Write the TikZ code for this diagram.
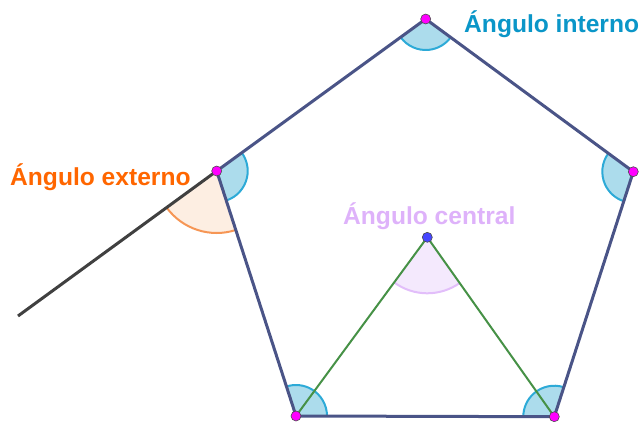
\documentclass[tikz,border=0pt]{standalone}
\usepackage{fontspec}
\setmainfont{Liberation Sans}
\usetikzlibrary{angles}
\definecolor{edgecol}{RGB}{74,84,135}
\definecolor{extcol}{RGB}{64,64,64}
\definecolor{greencol}{RGB}{70,145,70}
\definecolor{intfill}{RGB}{172,220,236}
\definecolor{intdraw}{RGB}{45,170,215}
\definecolor{extfill}{RGB}{253,238,226}
\definecolor{extdraw}{RGB}{246,150,85}
\definecolor{cenfill}{RGB}{244,233,253}
\definecolor{cendraw}{RGB}{226,190,250}
\definecolor{lblint}{RGB}{10,150,200}
\definecolor{lblext}{RGB}{255,102,0}
\definecolor{lblcen}{RGB}{222,178,250}
\definecolor{vcol}{RGB}{255,0,255}
\definecolor{ccol}{RGB}{70,70,255}
\tikzset{
  intang/.style={draw=intdraw, fill=intfill, line width=2pt, angle radius=31pt},
  extang/.style={draw=extdraw, fill=extfill, line width=2pt, angle radius=62pt},
  cenang/.style={draw=cendraw, fill=cenfill, line width=2pt, angle radius=56pt},
  vdot/.style={circle, fill=vcol, draw=black!70, line width=0.6pt, inner sep=0pt, minimum size=10pt},
  cdot/.style={circle, fill=ccol, draw=black!70, line width=0.6pt, inner sep=0pt, minimum size=10pt},
  lbl/.style={anchor=base west, inner sep=0pt, font=\fontsize{24.6}{24.6}\selectfont\bfseries}
}
\begin{document}
\begin{tikzpicture}[x=1pt,y=1pt]
\useasboundingbox (0,0) rectangle (644,421);
\coordinate (A) at (425.7,402);
\coordinate (B) at (633.3,249.3);
\coordinate (C) at (554.3,4.3);
\coordinate (D) at (296,5);
\coordinate (E) at (216.7,250);
\coordinate (O) at (427.3,183.7);
\coordinate (F) at (18,105);
% angle sectors
\pic[intang] {angle=E--A--B};
\pic[intang] {angle=A--B--C};
\pic[intang] {angle=B--C--D};
\pic[intang] {angle=C--D--E};
\pic[intang] {angle=D--E--A};
\pic[extang] {angle=F--E--D};
\pic[cenang] {angle=D--O--C};
% lines
\draw[greencol, line width=2pt] (D) -- (O) -- (C);
\draw[extcol, line width=3pt] (E) -- (F);
\draw[edgecol, line width=3pt, line join=round] (A) -- (B) -- (C) -- (D) -- (E) -- cycle;
% points
\foreach \p in {A,B,C,D,E} \node[vdot] (d\p) at (\p) {};
\node[cdot] (dO) at (O) {};
% labels
\node[lbl, text=lblint] (li) at (464,388) {Ángulo interno};
\node[lbl, text=lblext] (le) at (10,236) {Ángulo externo};
\node[lbl, text=lblcen] (lc) at (343,197) {Ángulo central};
\end{tikzpicture}
\end{document}
